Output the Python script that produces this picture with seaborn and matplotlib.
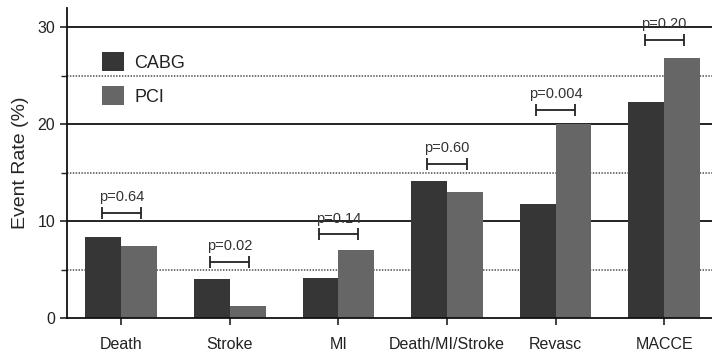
import numpy as np
import pandas as pd
import matplotlib
matplotlib.use('Agg')
import matplotlib.pyplot as plt
import seaborn as sns

# values
outcomes = ['Death', 'Stroke', 'MI', 'Death/MI/Stroke', 'Revasc', 'MACCE']
cabg = [8.4, 4.0, 4.15, 14.2, 11.75, 22.3]
pci = [7.4, 1.2, 7.0, 13.0, 20.0, 26.8]
p_labels = ['p=0.64', 'p=0.02', 'p=0.14', 'p=0.60', 'p=0.004', 'p=0.20']
bracket_y = [10.85, 5.8, 8.65, 15.95, 21.5, 28.7]

df = pd.DataFrame({
    'outcome': outcomes * 2,
    'rate': cabg + pci,
    'group': ['CABG'] * len(outcomes) + ['PCI'] * len(outcomes),
})

sns.set_style('white')
plt.rcParams['font.family'] = ['Liberation Sans', 'DejaVu Sans']

fig = plt.figure(figsize=(7.12, 3.53), dpi=100)
ax = fig.add_axes([0.094, 0.099, 0.906, 0.878])

# gridlines behind bars
for v in [10, 20, 30]:
    ax.axhline(v, color='#111111', lw=1.3, zorder=0)
for v in [5, 15, 25]:
    ax.axhline(v, color='#666666', lw=1.3, ls=(0, (0.8, 0.8)), zorder=0)

sns.barplot(data=df, x='outcome', y='rate', hue='group', order=outcomes,
            palette={'CABG': '#363636', 'PCI': '#666666'}, width=0.66,
            saturation=1, ax=ax, zorder=2, legend=True, linewidth=0,
            edgecolor='none')

xs = np.arange(len(outcomes))
ax.errorbar(xs, bracket_y, xerr=0.18, fmt='none', ecolor='#222222',
            elinewidth=1.3, capsize=4, capthick=1.3, zorder=3)
for x, y, lab in zip(xs, bracket_y, p_labels):
    ax.text(x, y + 0.9, lab, ha='center', va='bottom', fontsize=10.5,
            color='#333333')

ax.set_xlim(-0.5, 5.44)
ax.set_ylim(0, 32)
ax.set_yticks([0, 10, 20, 30])
ax.set_yticks([5, 15, 25], minor=True)
ax.set_xlabel('')
ax.set_ylabel('Event Rate (%)', fontsize=14, labelpad=6)
ax.tick_params(axis='x', labelsize=11.5, pad=9, length=5, width=1.2,
               direction='out', bottom=True, colors='#222222')
ax.tick_params(axis='y', which='major', labelsize=11.5, length=5, width=1.2,
               direction='out', left=True, colors='#222222')
ax.tick_params(axis='y', which='minor', length=4, width=1.0,
               direction='out', left=True, color='#222222')
for s in ['top', 'right']:
    ax.spines[s].set_visible(False)
for s in ['left', 'bottom']:
    ax.spines[s].set_color('#111111')
    ax.spines[s].set_linewidth(1.3)

leg = ax.legend(loc='upper left', bbox_to_anchor=(0.055, 0.857), frameon=False,
                fontsize=13, handlelength=1.2, handleheight=1.2,
                handletextpad=0.55, labelspacing=0.8, borderaxespad=0,
                borderpad=0)
for t in leg.get_texts():
    t.set_color('#222222')

fig.savefig('out.png', dpi=100)
